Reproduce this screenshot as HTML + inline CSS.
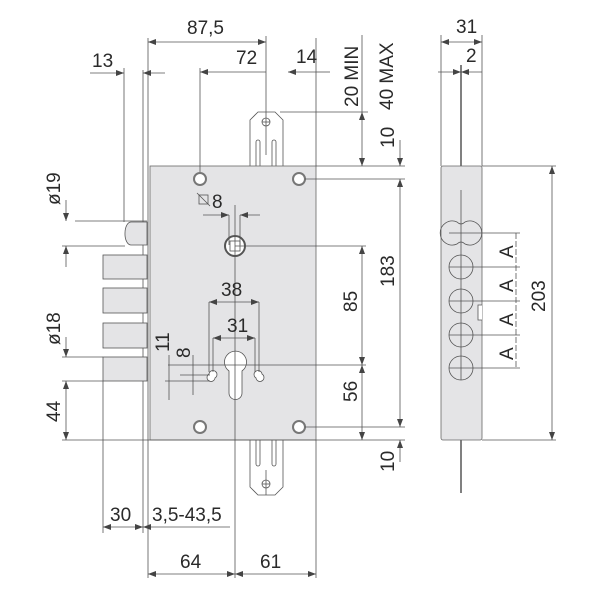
<!DOCTYPE html>
<html><head><meta charset="utf-8"><style>
html,body{margin:0;padding:0;background:#fff}
svg{display:block}
text{font-family:"Liberation Sans",sans-serif;font-size:19px;fill:#2a2a2a}
</style></head><body>
<svg width="600" height="600" viewBox="0 0 600 600" xmlns="http://www.w3.org/2000/svg">
<defs>
<marker id="a" markerWidth="8" markerHeight="6" refX="8" refY="3" orient="auto-start-reverse" markerUnits="userSpaceOnUse"><path d="M0,0 L8,3 L0,6 Z" fill="#444"/></marker>
</defs>
<g stroke="#555" stroke-width="0.8" fill="none">
<line x1="143" y1="70" x2="143" y2="533"/>
<line x1="148" y1="38" x2="148" y2="578"/>
<line x1="124" y1="68" x2="124" y2="222"/>
<path d="M250,166 V120 L258,112 H275 L283,120 V166" fill="#fff"/>
<path d="M256,166 V142 a2,2 0 0 1 4,0 V166 M272,166 V142 a2,2 0 0 1 4,0 V166"/>
<circle cx="266" cy="122" r="4"/><line x1="262" y1="122" x2="270" y2="122"/><line x1="266" y1="80" x2="266" y2="155"/>
<path d="M250,440 V487 L258,495 H275 L283,487 V440" fill="#fff"/>
<path d="M256,440 V464 a2,2 0 0 0 4,0 V440 M272,440 V464 a2,2 0 0 0 4,0 V440"/>
<circle cx="266" cy="484" r="4"/><line x1="262" y1="484" x2="270" y2="484"/><line x1="266" y1="470" x2="266" y2="495"/>
<rect x="150" y="166" width="166" height="274" fill="#e4e4e6" stroke="#666"/>
<path d="M147,222 H131 a6,11 0 0 0 -6,11 a6,11 0 0 0 6,12 H147 Z" fill="#e4e4e6"/>
<rect x="103" y="255" width="44" height="24" fill="#e4e4e6"/>
<rect x="103" y="288" width="44" height="25" fill="#e4e4e6"/>
<rect x="103" y="323" width="44" height="25" fill="#e4e4e6"/>
<rect x="103" y="357" width="44" height="24" fill="#e4e4e6"/>
<circle cx="200" cy="179" r="6" fill="#fff" stroke="#777" stroke-width="2"/>
<circle cx="299" cy="179" r="6" fill="#fff" stroke="#777" stroke-width="2"/>
<circle cx="200" cy="427" r="6" fill="#fff" stroke="#777" stroke-width="2"/>
<circle cx="299" cy="427" r="6" fill="#fff" stroke="#777" stroke-width="2"/>
<circle cx="235" cy="246" r="10" fill="#fff" stroke="#555" stroke-width="2"/>
<rect x="230" y="241" width="10" height="10" fill="#fff"/>
<path d="M229,371 a11,11 0 1 1 13,0 V393 a6.5,6.5 0 0 1 -13,0 Z" fill="#fff"/>
<path d="M209,374 a4,4 0 1 1 6,4 a4,4 0 1 1 -6,-4 Z" fill="#fff"/>
<path d="M262,374 a4,4 0 1 0 -6,4 a4,4 0 1 0 6,-4 Z" fill="#fff"/>
<line x1="235" y1="205" x2="235" y2="578"/>
<line x1="235" y1="246" x2="366" y2="246"/>
<line x1="168" y1="365" x2="366" y2="365"/>
<line x1="305" y1="179" x2="405" y2="179"/>
<line x1="305" y1="427" x2="405" y2="427"/>
<line x1="280" y1="112" x2="368" y2="112"/>
<line x1="316" y1="166" x2="405" y2="166"/>
<line x1="62" y1="440" x2="405" y2="440"/>
<line x1="316" y1="38" x2="316" y2="166"/>
<line x1="316" y1="440" x2="316" y2="578"/>
<line x1="200" y1="68" x2="200" y2="172"/>
<line x1="75" y1="221" x2="147" y2="221"/>
<line x1="62" y1="246" x2="125" y2="246"/>
<line x1="62" y1="357" x2="103" y2="357"/>
<line x1="62" y1="381" x2="103" y2="381"/>
<line x1="103" y1="381" x2="103" y2="533"/>
<line x1="148" y1="42" x2="266" y2="42" marker-start="url(#a)" marker-end="url(#a)"/>
<line x1="266" y1="36" x2="266" y2="80"/>
<line x1="200" y1="72" x2="266" y2="72" marker-start="url(#a)"/>
<line x1="288" y1="72" x2="316" y2="72" marker-start="url(#a)"/>
<line x1="316" y1="72" x2="330" y2="72"/>
<line x1="90" y1="73" x2="124" y2="73" marker-end="url(#a)"/>
<line x1="143" y1="73" x2="165" y2="73" marker-start="url(#a)"/>
<line x1="362" y1="35" x2="362" y2="112" />
<line x1="362" y1="112" x2="362" y2="166" marker-start="url(#a)" marker-end="url(#a)"/>
<line x1="400" y1="140" x2="400" y2="166" marker-end="url(#a)"/>
<line x1="400" y1="179" x2="400" y2="427" marker-start="url(#a)" marker-end="url(#a)"/>
<line x1="400" y1="440" x2="400" y2="462" marker-start="url(#a)"/>
<line x1="362" y1="246" x2="362" y2="365" marker-start="url(#a)" marker-end="url(#a)"/>
<line x1="362" y1="365" x2="362" y2="440" marker-start="url(#a)" marker-end="url(#a)"/>
<line x1="66" y1="200" x2="66" y2="221" marker-end="url(#a)"/>
<line x1="66" y1="246" x2="66" y2="267" marker-start="url(#a)"/>
<line x1="66" y1="337" x2="66" y2="357" marker-end="url(#a)"/>
<line x1="66" y1="381" x2="66" y2="440" marker-start="url(#a)" marker-end="url(#a)"/>
<line x1="203" y1="215" x2="229" y2="215" marker-end="url(#a)"/>
<line x1="240" y1="215" x2="260" y2="215" marker-start="url(#a)"/>
<line x1="229" y1="215" x2="229" y2="245"/><line x1="240" y1="215" x2="240" y2="245"/>
<line x1="209" y1="302" x2="259" y2="302" marker-start="url(#a)" marker-end="url(#a)"/>
<line x1="209" y1="302" x2="209" y2="372"/><line x1="259" y1="302" x2="259" y2="372"/>
<line x1="213" y1="338" x2="255" y2="338" marker-start="url(#a)" marker-end="url(#a)"/>
<line x1="213" y1="338" x2="213" y2="372"/><line x1="255" y1="338" x2="255" y2="372"/>
<line x1="169" y1="355" x2="169" y2="400"/><line x1="193" y1="355" x2="193" y2="395"/>
<line x1="180" y1="375" x2="210" y2="375"/><line x1="165" y1="381" x2="210" y2="381"/>
<line x1="103" y1="527" x2="143" y2="527" marker-start="url(#a)" marker-end="url(#a)"/>
<line x1="143" y1="527" x2="230" y2="527" marker-start="url(#a)"/>
<line x1="148" y1="574" x2="235" y2="574" marker-start="url(#a)" marker-end="url(#a)"/>
<line x1="235" y1="574" x2="316" y2="574" marker-start="url(#a)" marker-end="url(#a)"/>
<line x1="197" y1="193" x2="210" y2="206"/>
<rect x="199" y="195" width="9" height="9"/>
<line x1="461" y1="65" x2="461" y2="166" stroke-width="1.5"/>
<line x1="461" y1="440" x2="461" y2="493" stroke-width="1.5"/>
<line x1="441" y1="35" x2="441" y2="166"/>
<line x1="482" y1="35" x2="482" y2="166"/>
<rect x="441" y="166" width="41" height="274" rx="2" fill="#e4e4e6" stroke="#666"/>
<line x1="441" y1="42" x2="482" y2="42" marker-start="url(#a)" marker-end="url(#a)"/>
<line x1="438" y1="72" x2="461" y2="72" marker-end="url(#a)"/>
<line x1="461" y1="72" x2="482" y2="72" marker-start="url(#a)"/>
<line x1="482" y1="166" x2="556" y2="166"/>
<line x1="482" y1="440" x2="556" y2="440"/>
<line x1="552" y1="166" x2="552" y2="440" marker-start="url(#a)" marker-end="url(#a)"/>
<line x1="461" y1="190" x2="461" y2="380"/>
<g fill="none">
<path d="M457,222 A12,12 0 1 0 457,244 Q461,240 465,244 A12,12 0 1 0 465,222 Q461,226 457,222 Z"/>
<circle cx="461" cy="267" r="12"/><circle cx="461" cy="301" r="12"/>
<circle cx="461" cy="335" r="12"/><circle cx="461" cy="368" r="12"/>
</g>
<path d="M482,305 h-4 v15 h4" fill="#fff"/>
<line x1="449" y1="233" x2="520" y2="233"/><line x1="449" y1="267" x2="520" y2="267"/>
<line x1="449" y1="301" x2="520" y2="301"/><line x1="449" y1="335" x2="520" y2="335"/>
<line x1="449" y1="368" x2="520" y2="368"/>
<line x1="516" y1="233" x2="516" y2="368" stroke-dasharray="6,2"/>
</g>
<text x="187" y="34">87,5</text>
<text x="236" y="64">72</text>
<text x="296" y="63">14</text>
<text x="92" y="67">13</text>
<text transform="translate(358,107) rotate(-90)">20 MIN</text>
<text transform="translate(393,110) rotate(-90)">40 MAX</text>
<text transform="translate(394,148) rotate(-90)">10</text>
<text transform="translate(394,287) rotate(-90)">183</text>
<text transform="translate(357,312) rotate(-90)">85</text>
<text transform="translate(357,402) rotate(-90)">56</text>
<text transform="translate(394,472) rotate(-90)">10</text>
<text transform="translate(60,205) rotate(-90)">ø19</text>
<text transform="translate(60,345) rotate(-90)">ø18</text>
<text transform="translate(60,422) rotate(-90)">44</text>
<text transform="translate(169,352) rotate(-90)">11</text>
<text transform="translate(190,358) rotate(-90)">8</text>
<text x="212" y="208">8</text>
<text x="221" y="296">38</text>
<text x="227" y="332">31</text>
<text x="110" y="521">30</text>
<text x="152" y="521">3,5-43,5</text>
<text x="180" y="568">64</text>
<text x="260" y="568">61</text>
<text x="456" y="33">31</text>
<text x="466" y="62">2</text>
<text transform="translate(513,258) rotate(-90)">A</text>
<text transform="translate(513,292) rotate(-90)">A</text>
<text transform="translate(513,326) rotate(-90)">A</text>
<text transform="translate(513,360) rotate(-90)">A</text>
<text transform="translate(545,312) rotate(-90)">203</text>
</svg>
</body></html>
